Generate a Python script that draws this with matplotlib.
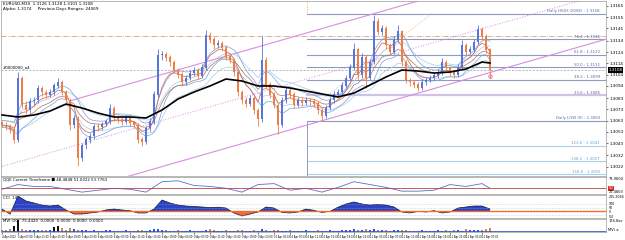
import numpy as np
import matplotlib.pyplot as plt

# EURUSD M30 candles (one candle per slot)
open_first = 1.3061
closes = [
    1.3059, 1.3057, 1.3055, 1.3046, 1.3101, 1.3077, 1.3072, 1.3080, 1.3081, 1.3092,
    1.3088, 1.3086, 1.3088, 1.3094, 1.3097, 1.3088, 1.3081, 1.3059, 1.3065, 1.3030,
    1.3041, 1.3046, 1.3049, 1.3058, 1.3057, 1.3060, 1.3062, 1.3074, 1.3066, 1.3064,
    1.3062, 1.3065, 1.3061, 1.3059, 1.3046, 1.3044, 1.3056, 1.3062, 1.3086, 1.3121,
    1.3122, 1.3119, 1.3115, 1.3108, 1.3104, 1.3097, 1.3101, 1.3105, 1.3108, 1.3103,
    1.3110, 1.3139, 1.3135, 1.3130, 1.3132, 1.3128, 1.3120, 1.3117, 1.3106, 1.3088,
    1.3081, 1.3078, 1.3083, 1.3072, 1.3064, 1.3117, 1.3095, 1.3086, 1.3077, 1.3059,
    1.3081, 1.3090, 1.3086, 1.3077, 1.3081, 1.3079, 1.3081, 1.3080, 1.3078, 1.3072,
    1.3067, 1.3074, 1.3081, 1.3086, 1.3088, 1.3094, 1.3101, 1.3110, 1.3126, 1.3104,
    1.3119, 1.3101, 1.3115, 1.3151, 1.3142, 1.3145, 1.3130, 1.3124, 1.3135, 1.3142,
    1.3115, 1.3099, 1.3097, 1.3095, 1.3092, 1.3097, 1.3099, 1.3101, 1.3103, 1.3106,
    1.3115, 1.3110, 1.3106, 1.3104, 1.3110, 1.3130, 1.3124, 1.3126, 1.3133, 1.3144,
    1.3138, 1.3126, 1.3108]
highs = [
    1.3063, 1.3062, 1.3060, 1.3057, 1.3106, 1.3103, 1.3080, 1.3083, 1.3084, 1.3095,
    1.3094, 1.3090, 1.3091, 1.3096, 1.3101, 1.3099, 1.3090, 1.3083, 1.3068, 1.3067,
    1.3043, 1.3048, 1.3052, 1.3060, 1.3061, 1.3062, 1.3064, 1.3078, 1.3076, 1.3068,
    1.3066, 1.3068, 1.3067, 1.3063, 1.3061, 1.3048, 1.3058, 1.3065, 1.3089, 1.3127,
    1.3125, 1.3124, 1.3121, 1.3117, 1.3110, 1.3106, 1.3104, 1.3108, 1.3111, 1.3110,
    1.3113, 1.3144, 1.3142, 1.3137, 1.3135, 1.3134, 1.3130, 1.3122, 1.3119, 1.3108,
    1.3090, 1.3084, 1.3086, 1.3085, 1.3074, 1.3138, 1.3120, 1.3097, 1.3088, 1.3079,
    1.3084, 1.3093, 1.3092, 1.3088, 1.3084, 1.3083, 1.3084, 1.3083, 1.3082, 1.3080,
    1.3074, 1.3077, 1.3084, 1.3089, 1.3091, 1.3097, 1.3104, 1.3113, 1.3132, 1.3128,
    1.3123, 1.3121, 1.3118, 1.3157, 1.3154, 1.3148, 1.3147, 1.3132, 1.3138, 1.3148,
    1.3144, 1.3117, 1.3101, 1.3099, 1.3097, 1.3100, 1.3102, 1.3104, 1.3105, 1.3109,
    1.3119, 1.3117, 1.3112, 1.3108, 1.3113, 1.3135, 1.3132, 1.3129, 1.3136, 1.3148,
    1.3146, 1.3140, 1.3128]
lows = [
    1.3057, 1.3055, 1.3052, 1.3043, 1.3044, 1.3074, 1.3069, 1.3070, 1.3077, 1.3079,
    1.3085, 1.3083, 1.3084, 1.3086, 1.3092, 1.3086, 1.3078, 1.3055, 1.3056, 1.3023,
    1.3027, 1.3038, 1.3043, 1.3047, 1.3054, 1.3055, 1.3058, 1.3060, 1.3063, 1.3061,
    1.3059, 1.3060, 1.3058, 1.3056, 1.3043, 1.3040, 1.3042, 1.3054, 1.3060, 1.3084,
    1.3117, 1.3116, 1.3112, 1.3105, 1.3101, 1.3094, 1.3095, 1.3099, 1.3103, 1.3100,
    1.3101, 1.3108, 1.3132, 1.3127, 1.3128, 1.3125, 1.3117, 1.3114, 1.3103, 1.3085,
    1.3078, 1.3075, 1.3076, 1.3069, 1.3058, 1.3062, 1.3092, 1.3083, 1.3074, 1.3051,
    1.3057, 1.3079, 1.3083, 1.3074, 1.3075, 1.3076, 1.3077, 1.3077, 1.3075, 1.3069,
    1.3063, 1.3065, 1.3072, 1.3079, 1.3084, 1.3086, 1.3092, 1.3099, 1.3108, 1.3100,
    1.3101, 1.3092, 1.3099, 1.3113, 1.3139, 1.3139, 1.3127, 1.3121, 1.3122, 1.3133,
    1.3112, 1.3096, 1.3094, 1.3092, 1.3089, 1.3090, 1.3095, 1.3097, 1.3099, 1.3101,
    1.3104, 1.3107, 1.3103, 1.3101, 1.3102, 1.3108, 1.3121, 1.3122, 1.3124, 1.3131,
    1.3135, 1.3123, 1.3101]

# slow moving average (thick black line), every 4th candle
ma_slow_bars = list(range(0, 121, 4)) + [122]
ma_slow = [1.30680, 1.30662, 1.30680, 1.30715, 1.30777, 1.30742, 1.30697, 1.30662,
           1.30662, 1.30653, 1.30724, 1.30822, 1.30884, 1.30938, 1.31000, 1.30982,
           1.30938, 1.30938, 1.30920, 1.30893, 1.30867, 1.30840, 1.30875, 1.30946,
           1.31018, 1.31080, 1.31071, 1.31053, 1.31062, 1.31089, 1.31151, 1.31142]

# QQE line, every 4th candle
qqe = [47.5, 60, 55, 55, 47.5, 40, 45, 50, 47.5, 40, 67.5, 70, 57.5, 55, 50, 40,
       60, 62.5, 45, 50, 40, 52.5, 67.5, 60, 52.5, 42.5, 42.5, 45, 60, 55, 62.5, 50]

# CCI, every 2nd candle
cci_bars = list(range(0, 123, 2))
cci = [29, -45, 215, 144, 115, 86, 72, 86, 15, -43,
       -43, -28, -14, 15, 29, 15, 5, -28, -28, 29,
       158, 115, 86, 72, 65, 58, 50, 55, 43, -28,
       -71, -43, -14, 58, 43, -20, -28, -14, 29, 10,
       -20, -5, 55, 101, 130, 101, 86, 95, 86, 58,
       -14, -28, -5, -14, 5, -28, -14, 43, 58, 72,
       72, 29]

# MVI volume bars, one per candle
volume = [2, 2, 3, 6, 13, 3, 2, 2, 2, 2, 2,
          2, 2, 5, 7, 4, 2, 4, 3, 2, 2,
          2, 1, 2, 1, 1, 2, 2, 1, 1, 1, 2, 1, 1, 2, 2, 1, 2, 3, 3, 2,
          2, 1, 1, 2, 1, 1, 2, 1, 1, 1, 2, 3, 2, 1, 1, 2, 1, 1, 2, 2,
          1, 1, 2, 1, 3, 2, 1, 2, 2, 1, 1, 2, 1, 1, 1, 2, 1, 1, 2, 1,
          1, 2, 1, 1, 2, 2, 2, 3, 2, 2, 3, 2, 3, 2, 2, 2, 1, 2, 2, 2,
          2, 1, 1, 1, 2, 1, 1, 1, 2, 1, 2, 1, 2, 2, 1, 3, 2, 2, 2, 2, 3, 4]

time_labels = ["4 Apr 2012", "5 Apr 07:00", "5 Apr 11:00", "5 Apr 15:00", "5 Apr 19:00",
               "5 Apr 23:00", "6 Apr 03:00", "6 Apr 07:00", "6 Apr 11:00", "6 Apr 15:00",
               "6 Apr 19:00", "9 Apr 03:00", "9 Apr 07:00", "9 Apr 11:00", "9 Apr 15:00",
               "9 Apr 19:00", "9 Apr 23:00", "10 Apr 03:00", "10 Apr 07:00", "10 Apr 11:00",
               "10 Apr 15:00", "10 Apr 19:00", "10 Apr 23:00", "11 Apr 03:00", "11 Apr 07:00",
               "11 Apr 11:00", "11 Apr 15:00", "11 Apr 19:00", "11 Apr 23:00", "12 Apr 03:00",
               "12 Apr 07:00"]
price_ticks = [1.3165, 1.3155, 1.3145, 1.3134, 1.3124, 1.3114, 1.3104, 1.3094,
               1.3083, 1.3073, 1.3063, 1.3053, 1.3043, 1.3032, 1.3022]

day_high = 1.3158
day_low = 1.3063
fib_ratios = [1.0, 0.764, 0.618, 0.5, 0.382, 0.236, 0.0, -0.236, -0.382, -0.5]
fib_names = ["Daily HIGH (2058)", "76.4", "61.8", "50.0", "38.2", "23.6",
             "Daily LOW (0)", "123.6", "138.2", "150.0"]
prev_high = 1.3138
bid = 1.3108
alert_price = 1.3103
day_start_bar = 76.25
chan_mid = [1.30222, 1.31468]   # channel mid line at candles 0 and 122
chan_width = 0.0041
fib_trend_bars = [76.25, 107.75]
fib_trend_prices = [1.3071, 1.3159]


def ema(vals, n):
    k = 2.0 / (n + 1)
    out = [vals[0]]
    for v in vals[1:]:
        out.append(out[-1] + k * (v - out[-1]))
    return np.array(out)


W, H = 625, 240
fig = plt.figure(figsize=(W / 100, H / 100), dpi=100)
fig.patch.set_facecolor('white')


def px_axes(x0, y0, x1, y1):
    a = fig.add_axes([x0 / W, 1 - y1 / H, (x1 - x0) / W, (y1 - y0) / H])
    a.set_xlim(-0.25, 151)
    a.set_xticks([])
    a.yaxis.tick_right()
    a.tick_params(axis='y', labelsize=3, length=1.5, width=0.4, pad=1)
    for s in a.spines.values():
        s.set_color('#9a9a9a')
        s.set_linewidth(0.5)
    return a


ax = px_axes(1, 1, 606, 176)
ax_q = px_axes(1, 177, 606, 194)
ax_c = px_axes(1, 195, 606, 218)
ax_v = px_axes(1, 219, 606, 232)

# ---------------- main price panel ----------------
n = len(closes)
idx = np.arange(n)
c = np.array(closes)
opens = np.array([open_first] + closes[:-1])
up = c >= opens
col = np.where(up, '#5577dd', '#f07e40')

fib_px = [day_low + r * (day_high - day_low) for r in fib_ratios]
for name, r, p in zip(fib_names, fib_ratios, fib_px):
    if r < 0:
        lc, tc, lw = '#a8d0ea', '#5fa3d0', 0.8
    elif r == 0.236:
        lc, tc, lw = '#cfc3e6', '#5a6a9a', 1.6
    else:
        lc, tc, lw = '#8e9ac0', '#5a6a9a', 0.8
    ax.plot([day_start_bar, 151], [p, p], color=lc, lw=lw, zorder=1)
    ax.text(149.5, p + 0.00003, f"{name} : {p:.4f}", fontsize=2.8, color=tc,
            ha='right', va='bottom', zorder=5)

ax.plot([day_start_bar, day_start_bar], [1.2990, day_low], color='#8e9ac0', lw=0.7, zorder=1)
ax.plot([day_start_bar, day_start_bar], [day_high, 1.3175], color='#d9a070', lw=0.6, ls=':', zorder=1)
ax.axhline(prev_high, color='#d9a070', lw=0.6, ls='-.', zorder=1)
ax.axhline(bid, color='#a0a0a0', lw=0.5, ls=(0, (3, 2)), zorder=1)
ax.plot(fib_trend_bars, fib_trend_prices, color='#e0a080', lw=0.5, ls=':', zorder=1)

# regression channel
slope = (chan_mid[1] - chan_mid[0]) / 122
xs = np.array([0, 151])
ax.plot(xs, chan_mid[0] + slope * xs, color='#d88de2', lw=0.7, ls=':', zorder=1)
xs2 = np.array([17, 151])
ax.plot(xs2, chan_mid[0] + slope * xs2 + chan_width, color='#d88de2', lw=0.8, zorder=1)
ax.plot(xs2, chan_mid[0] + slope * xs2 - chan_width, color='#d88de2', lw=0.8, zorder=1)

# moving average ribbon
ax.plot(idx, ema(highs, 14), color='#a6cbea', lw=0.5, zorder=2)
ax.plot(idx, ema(lows, 14), color='#a6cbea', lw=0.5, zorder=2)
ax.plot(idx, ema(highs, 8), color='#76a2da', lw=0.5, zorder=2)
ax.plot(idx, ema(lows, 8), color='#76a2da', lw=0.5, zorder=2)
ax.plot(idx, ema(closes, 6), color='#d0584a', lw=0.5, zorder=2)
ax.plot(idx, ema(closes, 12), color='#b0745a', lw=0.5, zorder=2)

ax.vlines(idx, lows, highs, colors=col, lw=0.6, zorder=3)
ax.bar(idx, np.abs(c - opens) + 0.00003, bottom=np.minimum(c, opens), width=0.55,
       color=col, lw=0, zorder=3)
ax.plot(ma_slow_bars, ma_slow, color='black', lw=1.2, zorder=4)
ax.plot([n - 1], [alert_price], 'o', ms=2.5, mfc='none', mec='#e060a0', mew=0.6, zorder=5)

ax.set_ylim(1.30137, 1.31694)
ax.set_yticks(price_ticks)
ax.set_yticklabels([f"{t:.4f}" for t in price_ticks])
ax.text(1.004, bid, f"{bid:.4f}", transform=ax.get_yaxis_transform(), fontsize=3,
        color='white', va='center', ha='left',
        bbox=dict(facecolor='black', edgecolor='none', pad=0.4))
ax.text(0.003, 0.995, "EURUSD,M30  1.3126 1.3128 1.3101 1.3108", transform=ax.transAxes,
        fontsize=3, va='top')
ax.text(0.003, 0.968, "Alpha: 1.3174     Previous Days Ranges: 24069", transform=ax.transAxes,
        fontsize=3, va='top')
ax.text(0.3, bid + 0.00003, "#0000000_a4", fontsize=2.8, va='bottom')

# ---------------- QQE ----------------
ax_q.plot(ma_slow_bars, qqe, color='#5570c8', lw=0.6)
ax_q.axhline(50, color='#c04040', lw=0.6)
ax_q.set_ylim(35, 80)
ax_q.set_yticks([])
ax_q.text(0.003, 0.97, "QQE Current Timeframe \u25a0 48.4848 51.0322 53.7763",
          transform=ax_q.transAxes, fontsize=2.8, va='top')
ax_q.text(1.004, 0.9, "73.9604", transform=ax_q.transAxes, fontsize=2.6, va='center')
ax_q.text(1.004, 50, "50", transform=ax_q.get_yaxis_transform(), fontsize=2.6, va='center',
          color='white', bbox=dict(facecolor='#d03030', edgecolor='none', pad=0.3))
ax_q.text(1.004, 0.1, "26.4803", transform=ax_q.transAxes, fontsize=2.6, va='center')

# ---------------- CCI ----------------
cb = np.array(cci_bars)
cv = np.array(cci, dtype=float)
ax_c.fill_between(cb, 0, cv, where=cv >= 0, interpolate=True, color='#2d44c8', lw=0)
ax_c.fill_between(cb, 0, cv, where=cv < 0, interpolate=True, color='#f06a3a', lw=0)
ax_c.plot(cb, cv, color='#101830', lw=0.5)
ax_c.axhline(0, color='#f07030', lw=1.0)
for lv in [100, 50, -50]:
    ax_c.axhline(lv, color='#b0b0b0', lw=0.4, ls=':')
ax_c.set_ylim(-100, 230)
ax_c.set_yticks([])
ax_c.text(0.003, 0.97, "CCI  14", transform=ax_c.transAxes, fontsize=2.8, va='top')
for lv, lab in [(205, "215.2084"), (100, "100"), (40, "50"), (-20, "0"), (-80, "-50")]:
    ax_c.text(1.004, lv, lab, transform=ax_c.get_yaxis_transform(), fontsize=2.3, va='center')

# ---------------- MVI ----------------
vol = np.array(volume, dtype=float)
vcol = np.where(vol >= 5, '#101010', np.where(up, '#3355cc', '#e08a2a'))
ax_v.bar(idx, vol, width=0.6, color=vcol, lw=0)
ax_v.axhline(0.6, color='#3355cc', lw=0.6)
ax_v.set_ylim(0, 14)
ax_v.set_yticks([])
ax_v.text(0.003, 0.97, "MVI (20)  75.4420  0.0000  0.0000  0.0000  0.0000",
          transform=ax_v.transAxes, fontsize=2.8, va='top')
ax_v.text(1.004, 0.88, "174.8xx", transform=ax_v.transAxes, fontsize=2.6, va='center')
ax_v.text(1.004, 0.12, "MVI \u00b1", transform=ax_v.transAxes, fontsize=2.6, va='center')

ax_v.set_xticks(list(range(0, 121, 4)))
ax_v.set_xticklabels(time_labels, fontsize=1.8, ha='left')
ax_v.tick_params(axis='x', length=1.5, width=0.4, pad=1)

fig.savefig('out.png', dpi=100, facecolor='white')
